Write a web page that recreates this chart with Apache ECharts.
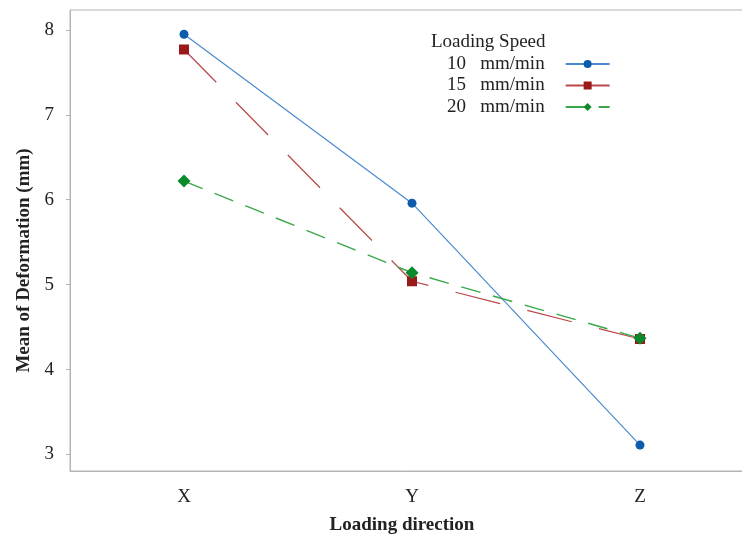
<!DOCTYPE html>
<html>
<head>
<meta charset="utf-8">
<script src="https://cdn.jsdelivr.net/npm/echarts@6/dist/echarts.min.js"></script>
<style>html,body{margin:0;padding:0;background:#fff}#c{width:742px;height:538px}</style>
</head>
<body>
<div id="c"></div>
<script>
var categories = ['X', 'Y', 'Z'];
var seriesNames = ['10   mm/min', '15   mm/min', '20   mm/min'];
var speed10 = [7.95, 5.96, 3.11];
var speed15 = [7.77, 5.04, 4.36];
var speed20 = [6.22, 5.14, 4.37];
var yTicks = [3, 4, 5, 6, 7, 8];

var font = 'Liberation Serif, Times New Roman, serif';
var chart = echarts.init(document.getElementById('c'));
chart.setOption({
  animation: false,
  backgroundColor: '#fff',
  textStyle: { fontFamily: font },
  grid: { left: 70, width: 684, top: 10, height: 461, show: true, borderColor: '#b4b4b4', borderWidth: 1,
          containLabel: false, outerBoundsMode: 'none' },
  title: {
    text: 'Loading Speed', left: 426, top: 28,
    textStyle: { fontFamily: font, fontSize: 19, fontWeight: 'normal', color: '#222' }
  },
  legend: {
    orient: 'vertical', left: 442, top: 49, align: 'right',
    itemWidth: 44, itemHeight: 10, itemGap: 1.5,
    textStyle: { fontFamily: font, fontSize: 19, lineHeight: 20, color: '#222', padding: [0, 16, 0, 0] },
    data: seriesNames
  },
  xAxis: {
    type: 'category', data: categories, boundaryGap: true,
    name: 'Loading direction', nameLocation: 'middle', nameGap: 45,
    nameTextStyle: { fontFamily: font, fontSize: 19, fontWeight: 'bold', color: '#222', padding: [0, 20, 0, 0] },
    axisLine: { lineStyle: { color: '#b4b4b4' } },
    axisTick: { alignWithLabel: true, length: 4, lineStyle: { color: '#b4b4b4' } },
    axisLabel: { fontFamily: font, fontSize: 19, color: '#222', margin: 17 },
    splitLine: { show: false }
  },
  yAxis: {
    type: 'value', min: 2.805, max: 8.235,
    name: 'Mean of Deformation (mm)', nameLocation: 'middle', nameGap: 34, nameRotate: 90,
    nameTextStyle: { fontFamily: font, fontSize: 19, fontWeight: 'bold', color: '#222', padding: [0, 40, 0, 0] },
    axisLine: { show: true, lineStyle: { color: '#b4b4b4' } },
    axisTick: { show: true, length: 4, customValues: yTicks, lineStyle: { color: '#b4b4b4' } },
    axisLabel: { fontFamily: font, fontSize: 19, color: '#222', margin: 16, customValues: yTicks },
    splitLine: { show: false }
  },
  series: [
    {
      name: seriesNames[0], type: 'line', data: speed10,
      symbol: 'circle', symbolSize: 9,
      itemStyle: { color: '#0b5cad' },
      lineStyle: { color: '#4a8ad0', width: 1.2, type: 'solid' }
    },
    {
      name: seriesNames[1], type: 'line', data: speed15,
      symbol: 'rect', symbolSize: 10,
      itemStyle: { color: '#9a1a1a' },
      lineStyle: { color: '#b84848', width: 1.2, type: [46, 28] }
    },
    {
      name: seriesNames[2], type: 'line', data: speed20,
      symbol: 'diamond', symbolSize: 13,
      itemStyle: { color: '#0a8a2a' },
      lineStyle: { color: '#3aa84a', width: 1.4, type: [20, 13] }
    }
  ]
});
</script>
</body>
</html>
